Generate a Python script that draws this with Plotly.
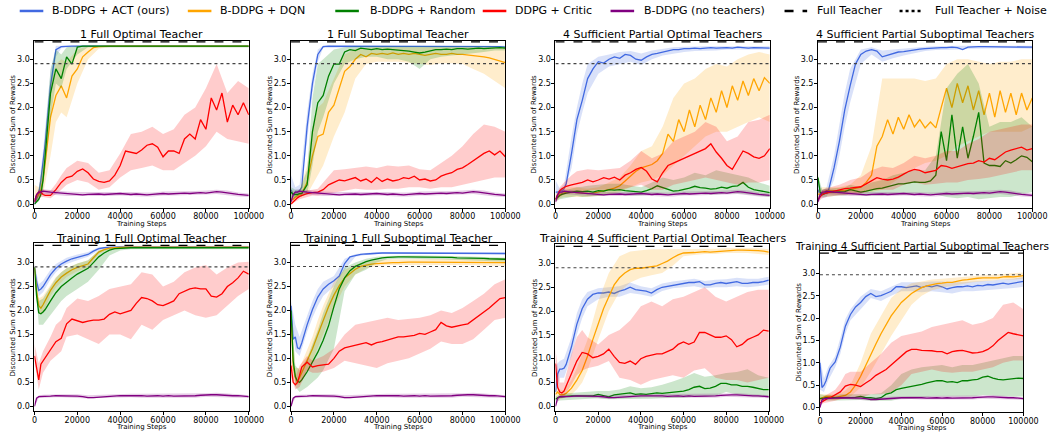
import plotly.graph_objects as go

W, H = 1063, 433

# ---------------- data ----------------
X = [0, 1000, 2000, 3000, 4000, 5000, 7500, 10000, 12500, 15000, 17500,
     20000, 22500, 25000, 27500, 30000, 32500, 35000, 37500, 40000, 42500, 45000,
     47500, 50000, 52500, 55000, 57500, 60000, 62500, 65000, 67500, 70000, 72500,
     75000, 77500, 80000, 82500, 85000, 87500, 90000, 92500, 95000, 97500, 100000]
XB = [0, 2000, 4000, 7500, 10000, 12500, 15000, 20000, 25000, 30000, 35000, 40000,
      45000, 50000, 55000, 60000, 65000, 70000, 75000, 80000, 85000, 90000, 95000, 100000]

SERIES_NAMES = ["B-DDPG + ACT (ours)", "B-DDPG + DQN", "B-DDPG + Random", "DDPG + Critic", "B-DDPG (no teachers)"]
REF_NAMES = ["Full Teacher", "Full Teacher + Noise"]
PANEL_TITLES = ["1 Full Optimal Teacher", "1 Full Suboptimal Teacher",
                "4 Sufficient Partial Optimal Teachers", "4 Sufficient Partial Suboptimal Teachers",
                "Training 1 Full Optimal Teacher", "Training 1 Full Suboptimal Teacher",
                "Training 4 Sufficient Partial Optimal Teachers", "Training 4 Sufficient Partial Suboptimal Teachers"]
FULL_TEACHER = [3.36, 3.36, 3.36, 3.36, 3.36, 3.36, 3.36, 3.45]
FULL_TEACHER_NOISE = [2.91, 2.91, 2.91, 2.91, 2.91, 2.92, 2.91, 2.97]
X_TICKS = [0, 20000, 40000, 60000, 80000, 100000]
Y_TICKS = [0.0, 0.5, 1.0, 1.5, 2.0, 2.5, 3.0]

# purple (no teachers), evaluation and training
P_EVAL = [0.05, 0.2, 0.25, 0.25, 0.27, 0.26, 0.25, 0.24, 0.23, 0.22, 0.22,
          0.2, 0.19, 0.2, 0.21, 0.21, 0.2, 0.21, 0.22, 0.22, 0.21, 0.2,
          0.21, 0.2, 0.19, 0.2, 0.21, 0.22, 0.21, 0.22, 0.23, 0.23, 0.22,
          0.23, 0.24, 0.23, 0.24, 0.26, 0.25, 0.23, 0.22, 0.2, 0.19, 0.18]
P_EVAL_LO = [0.0, 0.2, 0.21, 0.2, 0.19, 0.18, 0.17, 0.16, 0.16, 0.17, 0.17, 0.18,
             0.17, 0.16, 0.16, 0.18, 0.18, 0.19, 0.19, 0.2, 0.21, 0.19, 0.16, 0.15]
P_EVAL_HI = [0.1, 0.3, 0.31, 0.29, 0.28, 0.27, 0.26, 0.25, 0.25, 0.26, 0.26, 0.26,
             0.25, 0.24, 0.24, 0.26, 0.26, 0.27, 0.27, 0.28, 0.3, 0.28, 0.24, 0.22]
P_TRAIN = [0.0, 0.17, 0.2, 0.2, 0.21, 0.21, 0.21, 0.22, 0.22, 0.22, 0.22,
           0.21, 0.2, 0.18, 0.18, 0.19, 0.2, 0.21, 0.21, 0.22, 0.22, 0.22,
           0.23, 0.22, 0.21, 0.22, 0.22, 0.21, 0.22, 0.21, 0.21, 0.22, 0.22,
           0.22, 0.23, 0.24, 0.24, 0.24, 0.23, 0.23, 0.22, 0.22, 0.21, 0.2]
P_TRAIN_LO = [0.0, 0.17, 0.18, 0.18, 0.19, 0.19, 0.19, 0.17, 0.16, 0.17, 0.18, 0.19,
              0.19, 0.18, 0.18, 0.17, 0.18, 0.18, 0.18, 0.2, 0.2, 0.19, 0.18, 0.17]
P_TRAIN_HI = [0.05, 0.23, 0.24, 0.25, 0.25, 0.25, 0.25, 0.25, 0.23, 0.24, 0.25, 0.26,
              0.26, 0.26, 0.26, 0.27, 0.26, 0.26, 0.26, 0.27, 0.28, 0.27, 0.25, 0.23]

# Panel 1
P1_ACT = [0.0, 0.1, 0.22, 0.5, 0.85, 1.25, 2.45, 3.2, 3.26, 3.27, 3.27,
          3.27, 3.27, 3.27, 3.27, 3.27, 3.27, 3.27, 3.27, 3.27, 3.27, 3.27,
          3.27, 3.27, 3.27, 3.27, 3.27, 3.27, 3.27, 3.27, 3.27, 3.27, 3.27,
          3.27, 3.27, 3.27, 3.27, 3.27, 3.27, 3.27, 3.27, 3.27, 3.27, 3.27]
P1_ACT_LO = [0.0, 0.15, 0.55, 2.2, 3.05, 3.23, 3.25, 3.25, 3.25, 3.25, 3.25, 3.25,
             3.25, 3.25, 3.25, 3.25, 3.25, 3.25, 3.25, 3.25, 3.25, 3.25, 3.25, 3.25]
P1_ACT_HI = [0.05, 0.35, 1.1, 2.75, 3.28, 3.28, 3.28, 3.28, 3.28, 3.28, 3.28, 3.28,
             3.28, 3.28, 3.28, 3.28, 3.28, 3.28, 3.28, 3.28, 3.28, 3.28, 3.28, 3.28]
P1_DQN = [0.1, 0.15, 0.2, 0.3, 0.5, 0.85, 1.8, 2.25, 2.45, 2.2, 2.65,
          2.8, 3.05, 3.15, 3.24, 3.26, 3.27, 3.27, 3.27, 3.27, 3.27, 3.27,
          3.27, 3.27, 3.27, 3.27, 3.27, 3.27, 3.27, 3.27, 3.27, 3.27, 3.27,
          3.27, 3.27, 3.27, 3.27, 3.27, 3.27, 3.27, 3.27, 3.27, 3.27, 3.27]
P1_DQN_LO = [0.0, 0.1, 0.2, 1.0, 1.7, 1.9, 1.8, 2.5, 3.0, 3.22, 3.25, 3.25,
             3.25, 3.25, 3.25, 3.25, 3.25, 3.25, 3.25, 3.25, 3.25, 3.25, 3.25, 3.25]
P1_DQN_HI = [0.4, 0.35, 0.8, 2.5, 2.9, 3.0, 2.95, 3.2, 3.27, 3.28, 3.28, 3.28,
             3.28, 3.28, 3.28, 3.28, 3.28, 3.28, 3.28, 3.28, 3.28, 3.28, 3.28, 3.28]
P1_RND = [0.0, 0.05, 0.1, 0.2, 0.5, 1.0, 2.3, 2.8, 2.6, 3.05, 2.9,
          3.25, 3.27, 3.27, 3.27, 3.27, 3.27, 3.27, 3.27, 3.27, 3.27, 3.27,
          3.27, 3.27, 3.27, 3.27, 3.27, 3.27, 3.27, 3.27, 3.27, 3.27, 3.27,
          3.27, 3.27, 3.27, 3.27, 3.27, 3.27, 3.27, 3.27, 3.27, 3.27, 3.27]
P1_RND_LO = [0.0, 0.05, 0.3, 1.8, 2.5, 2.4, 2.8, 3.1, 3.25, 3.25, 3.25, 3.25,
             3.25, 3.25, 3.25, 3.25, 3.25, 3.25, 3.25, 3.25, 3.25, 3.25, 3.25, 3.25]
P1_RND_HI = [0.05, 0.3, 0.9, 2.8, 3.2, 3.1, 3.25, 3.28, 3.28, 3.28, 3.28, 3.28,
             3.28, 3.28, 3.28, 3.28, 3.28, 3.28, 3.28, 3.28, 3.28, 3.28, 3.28, 3.28]
P1_CRT = [0.05, 0.2, 0.25, 0.25, 0.2, 0.18, 0.18, 0.3, 0.45, 0.55, 0.58,
          0.68, 0.73, 0.65, 0.52, 0.47, 0.45, 0.48, 0.6, 0.8, 1.1, 1.08,
          1.05, 1.12, 1.22, 1.25, 1.18, 0.98, 1.1, 1.1, 1.05, 1.35, 1.45,
          1.35, 1.75, 1.55, 2.2, 1.95, 2.3, 1.7, 2.05, 1.85, 2.1, 1.85]
P1_CRT_LO = [0.0, 0.15, 0.15, 0.12, 0.2, 0.3, 0.4, 0.5, 0.45, 0.3, 0.35, 0.55,
             0.7, 0.75, 0.8, 0.7, 0.7, 0.85, 1.0, 1.2, 1.5, 1.35, 1.3, 1.25]
P1_CRT_HI = [0.1, 0.3, 0.3, 0.28, 0.42, 0.6, 0.75, 0.9, 0.85, 0.65, 0.7, 1.05,
             1.45, 1.5, 1.6, 1.45, 1.55, 1.85, 2.0, 2.4, 2.9, 2.3, 2.55, 2.4]

# Panel 2
P2_ACT = [0.3, 0.2, 0.25, 0.25, 0.28, 0.35, 1.6, 2.5, 3.1, 3.26, 3.27,
          3.27, 3.27, 3.27, 3.27, 3.27, 3.27, 3.27, 3.27, 3.27, 3.27, 3.27,
          3.27, 3.27, 3.27, 3.27, 3.27, 3.27, 3.27, 3.27, 3.27, 3.27, 3.27,
          3.27, 3.27, 3.27, 3.27, 3.27, 3.27, 3.27, 3.27, 3.26, 3.26, 3.25]
P2_ACT_LO = [0.15, 0.15, 0.2, 1.3, 2.3, 2.95, 3.24, 3.25, 3.25, 3.25, 3.25, 3.25,
             3.25, 3.25, 3.25, 3.25, 3.25, 3.25, 3.25, 3.25, 3.25, 3.25, 3.24, 3.23]
P2_ACT_HI = [0.6, 0.35, 0.4, 1.9, 2.7, 3.2, 3.28, 3.28, 3.28, 3.28, 3.28, 3.28,
             3.28, 3.28, 3.28, 3.28, 3.28, 3.28, 3.28, 3.28, 3.28, 3.28, 3.28, 3.28]
P2_DQN = [0.1, 0.1, 0.15, 0.18, 0.2, 0.22, 0.45, 1.0, 1.4, 1.45, 1.9,
          2.05, 2.4, 2.75, 2.85, 3.0, 3.1, 3.05, 3.12, 3.1, 3.12, 3.1,
          3.13, 3.1, 3.12, 3.1, 3.12, 3.1, 3.08, 3.1, 3.12, 3.1, 3.1,
          3.12, 3.1, 3.1, 3.09, 3.08, 3.07, 3.05, 3.03, 3.0, 2.97, 2.93]
P2_DQN_LO = [0.0, 0.1, 0.15, 0.2, 0.4, 0.6, 0.8, 1.4, 1.9, 2.6, 2.9, 2.95,
             2.95, 2.95, 2.92, 2.9, 2.88, 2.92, 2.92, 2.9, 2.8, 2.7, 2.55, 2.4]
P2_DQN_HI = [0.3, 0.25, 0.3, 0.8, 1.6, 2.0, 2.1, 2.6, 3.1, 3.22, 3.24, 3.25,
             3.25, 3.25, 3.25, 3.25, 3.25, 3.25, 3.25, 3.25, 3.25, 3.25, 3.25, 3.25]
P2_RND = [0.25, 0.2, 0.2, 0.2, 0.22, 0.22, 0.4, 1.5, 2.1, 2.25, 2.65,
          2.9, 2.9, 3.15, 3.2, 3.18, 3.23, 3.22, 3.2, 3.22, 3.2, 3.21,
          3.2, 3.2, 3.18, 3.17, 3.15, 3.13, 3.15, 3.18, 3.2, 3.2, 3.21,
          3.2, 3.22, 3.22, 3.21, 3.22, 3.23, 3.22, 3.23, 3.24, 3.24, 3.23]
P2_RND_LO = [0.1, 0.12, 0.15, 0.2, 0.8, 1.5, 1.8, 2.5, 2.9, 3.0, 3.05, 3.05,
             3.0, 3.0, 2.95, 2.8, 3.0, 3.05, 3.08, 3.1, 3.12, 3.15, 3.18, 3.18]
P2_RND_HI = [0.35, 0.3, 0.3, 0.7, 2.2, 2.9, 3.0, 3.2, 3.25, 3.27, 3.27, 3.27,
             3.27, 3.27, 3.27, 3.27, 3.27, 3.27, 3.27, 3.27, 3.27, 3.27, 3.27, 3.27]
P2_CRT = [0.0, 0.05, 0.1, 0.13, 0.16, 0.18, 0.22, 0.24, 0.25, 0.3, 0.4,
          0.45, 0.5, 0.48, 0.52, 0.55, 0.48, 0.52, 0.45, 0.55, 0.47, 0.52,
          0.48, 0.5, 0.55, 0.53, 0.58, 0.5, 0.52, 0.48, 0.5, 0.58, 0.62,
          0.65, 0.72, 0.75, 0.82, 0.9, 0.98, 1.05, 1.1, 1.02, 1.1, 0.98]
P2_CRT_LO = [0.0, 0.05, 0.1, 0.15, 0.18, 0.18, 0.2, 0.25, 0.28, 0.32, 0.3, 0.3,
             0.32, 0.32, 0.35, 0.35, 0.32, 0.35, 0.35, 0.4, 0.45, 0.5, 0.55, 0.55]
P2_CRT_HI = [0.05, 0.15, 0.2, 0.28, 0.3, 0.32, 0.45, 0.7, 0.72, 0.75, 0.78, 0.75,
             0.8, 0.78, 0.8, 0.72, 0.7, 0.85, 1.0, 1.2, 1.45, 1.65, 1.6, 1.5]

# Panel 3
P3_ACT = [0.25, 0.25, 0.27, 0.28, 0.32, 0.42, 1.05, 1.75, 2.15, 2.6, 2.8,
          2.95, 2.92, 3.0, 3.05, 3.02, 3.1, 3.08, 3.0, 2.98, 3.05, 3.1,
          3.12, 3.15, 3.18, 3.2, 3.2, 3.22, 3.22, 3.23, 3.22, 3.23, 3.24,
          3.23, 3.24, 3.24, 3.23, 3.25, 3.24, 3.23, 3.24, 3.24, 3.23, 3.23]
P3_ACT_LO = [0.2, 0.22, 0.25, 0.75, 1.45, 1.9, 2.3, 2.7, 2.85, 2.9, 2.95, 2.88,
             3.0, 3.08, 3.12, 3.15, 3.17, 3.18, 3.18, 3.2, 3.2, 3.2, 3.2, 3.2]
P3_ACT_HI = [0.5, 0.32, 0.4, 1.4, 2.0, 2.5, 2.9, 3.05, 3.1, 3.15, 3.17, 3.12,
             3.18, 3.22, 3.25, 3.26, 3.27, 3.27, 3.27, 3.27, 3.27, 3.27, 3.27, 3.27]
P3_DQN = [0.1, 0.15, 0.2, 0.22, 0.24, 0.25, 0.25, 0.24, 0.23, 0.22, 0.23,
          0.25, 0.27, 0.3, 0.33, 0.38, 0.48, 0.58, 0.68, 0.75, 0.78, 0.82,
          0.9, 1.05, 1.45, 1.3, 1.75, 1.5, 1.95, 1.6, 2.05, 1.75, 2.2,
          1.9, 2.35, 2.0, 2.45, 2.15, 2.55, 2.25, 2.6, 2.35, 2.62, 2.5]
P3_DQN_LO = [0.05, 0.12, 0.15, 0.15, 0.15, 0.15, 0.15, 0.17, 0.2, 0.25, 0.35, 0.45,
             0.5, 0.6, 0.8, 1.0, 1.2, 1.4, 1.5, 1.5, 1.6, 1.7, 1.8, 1.7]
P3_DQN_HI = [0.2, 0.3, 0.35, 0.35, 0.35, 0.33, 0.32, 0.35, 0.45, 0.55, 0.8, 1.1,
             1.2, 1.6, 2.2, 2.5, 2.6, 2.8, 2.9, 2.85, 3.0, 3.1, 3.15, 3.1]
P3_RND = [0.1, 0.15, 0.18, 0.2, 0.22, 0.23, 0.25, 0.27, 0.26, 0.27, 0.25,
          0.28, 0.27, 0.3, 0.29, 0.3, 0.28, 0.27, 0.26, 0.25, 0.28, 0.32,
          0.38, 0.34, 0.3, 0.27, 0.28, 0.3, 0.33, 0.37, 0.34, 0.33, 0.31,
          0.32, 0.35, 0.33, 0.37, 0.38, 0.45, 0.35, 0.3, 0.28, 0.26, 0.24]
P3_RND_LO = [0.05, 0.1, 0.13, 0.15, 0.17, 0.15, 0.15, 0.17, 0.2, 0.2, 0.18, 0.18,
             0.2, 0.2, 0.2, 0.2, 0.22, 0.2, 0.2, 0.22, 0.22, 0.2, 0.18, 0.15]
P3_RND_HI = [0.15, 0.25, 0.28, 0.32, 0.35, 0.36, 0.38, 0.4, 0.42, 0.42, 0.38, 0.35,
             0.45, 0.55, 0.5, 0.55, 0.65, 0.6, 0.7, 0.65, 0.6, 0.55, 0.45, 0.38]
P3_CRT = [0.1, 0.2, 0.28, 0.32, 0.35, 0.37, 0.4, 0.43, 0.45, 0.5, 0.46,
          0.5, 0.55, 0.52, 0.56, 0.5, 0.6, 0.65, 0.72, 0.76, 0.68, 0.52,
          0.46, 0.65, 0.8, 0.85, 0.9, 0.95, 1.0, 1.05, 1.1, 1.15, 1.25,
          1.08, 0.95, 0.8, 0.72, 0.9, 1.1, 1.05, 0.98, 0.95, 1.0, 1.15]
P3_CRT_LO = [0.05, 0.15, 0.2, 0.22, 0.25, 0.25, 0.28, 0.3, 0.3, 0.3, 0.35, 0.4,
             0.3, 0.3, 0.4, 0.45, 0.5, 0.55, 0.5, 0.45, 0.4, 0.45, 0.45, 0.5]
P3_CRT_HI = [0.15, 0.35, 0.45, 0.6, 0.68, 0.7, 0.72, 0.7, 0.72, 0.75, 0.9, 1.1,
             0.95, 1.05, 1.3, 1.4, 1.5, 1.7, 1.6, 1.3, 1.4, 1.7, 1.75, 1.85]

# Panel 4
P4_ACT = [0.3, 0.2, 0.2, 0.22, 0.25, 0.3, 0.75, 1.3, 1.95, 2.45, 2.9,
          3.1, 3.17, 3.2, 3.17, 3.05, 3.08, 3.12, 3.15, 3.16, 3.18, 3.2,
          3.21, 3.22, 3.23, 3.23, 3.24, 3.24, 3.25, 3.24, 3.2, 3.25, 3.26,
          3.26, 3.26, 3.26, 3.26, 3.26, 3.26, 3.26, 3.26, 3.26, 3.26, 3.25]
P4_ACT_LO = [0.15, 0.12, 0.15, 0.5, 1.0, 1.6, 2.1, 2.9, 3.1, 2.95, 3.02, 3.08,
             3.13, 3.17, 3.19, 3.2, 3.2, 3.22, 3.23, 3.23, 3.23, 3.23, 3.23, 3.22]
P4_ACT_HI = [0.5, 0.28, 0.35, 1.0, 1.65, 2.3, 2.8, 3.2, 3.25, 3.18, 3.2, 3.22,
             3.25, 3.26, 3.27, 3.28, 3.28, 3.28, 3.28, 3.28, 3.28, 3.28, 3.28, 3.28]
P4_DQN = [0.2, 0.22, 0.25, 0.27, 0.28, 0.28, 0.28, 0.27, 0.28, 0.3, 0.32,
          0.35, 0.45, 0.6, 1.2, 1.4, 1.75, 1.45, 1.8, 1.55, 1.85, 1.6,
          1.75, 1.58, 1.7, 1.58, 2.0, 2.4, 2.0, 2.5, 2.1, 2.45, 1.95,
          2.35, 1.85, 2.3, 1.8, 2.35, 1.9, 2.3, 1.85, 2.3, 1.95, 2.2]
P4_DQN_LO = [0.15, 0.18, 0.2, 0.2, 0.2, 0.2, 0.2, 0.22, 0.25, 0.3, 0.45, 0.6,
             0.75, 0.85, 0.9, 1.0, 1.2, 1.3, 1.4, 1.5, 1.5, 1.5, 1.5, 1.6]
P4_DQN_HI = [0.3, 0.35, 0.35, 0.35, 0.35, 0.38, 0.4, 0.6, 1.2, 2.6, 2.6, 2.6,
             2.6, 2.55, 2.6, 2.9, 3.0, 3.0, 2.95, 2.9, 2.95, 2.95, 3.0, 3.0]
P4_RND = [0.55, 0.25, 0.2, 0.22, 0.24, 0.25, 0.25, 0.25, 0.26, 0.3, 0.27,
          0.25, 0.27, 0.3, 0.32, 0.33, 0.36, 0.4, 0.42, 0.42, 0.44, 0.46,
          0.45, 0.45, 0.48, 0.6, 1.5, 0.9, 1.85, 0.95, 1.6, 0.95, 1.4,
          1.9, 0.85, 0.8, 0.8, 0.78, 0.9, 0.85, 0.92, 1.0, 0.97, 0.88]
P4_RND_LO = [0.4, 0.15, 0.17, 0.17, 0.18, 0.18, 0.2, 0.18, 0.18, 0.18, 0.2, 0.2,
             0.22, 0.22, 0.2, 0.15, 0.12, 0.15, 0.1, 0.12, 0.15, 0.15, 0.2, 0.25]
P4_RND_HI = [0.6, 0.3, 0.32, 0.33, 0.33, 0.35, 0.4, 0.35, 0.45, 0.5, 0.6, 0.65,
             0.7, 0.7, 1.0, 2.4, 2.7, 2.9, 2.5, 1.6, 1.7, 1.7, 1.8, 1.6]
P4_CRT = [0.1, 0.15, 0.2, 0.22, 0.23, 0.25, 0.27, 0.3, 0.32, 0.33, 0.34,
          0.36, 0.42, 0.48, 0.55, 0.52, 0.5, 0.52, 0.56, 0.62, 0.68, 0.72,
          0.7, 0.65, 0.68, 0.7, 0.8, 0.78, 0.74, 0.77, 0.8, 0.84, 0.85,
          0.9, 0.87, 0.95, 0.92, 1.0, 1.08, 1.12, 1.15, 1.18, 1.12, 1.15]
P4_CRT_LO = [0.05, 0.12, 0.15, 0.17, 0.18, 0.2, 0.2, 0.22, 0.3, 0.3, 0.3, 0.4,
             0.45, 0.4, 0.42, 0.45, 0.45, 0.5, 0.52, 0.55, 0.6, 0.65, 0.7, 0.7]
P4_CRT_HI = [0.15, 0.3, 0.33, 0.37, 0.4, 0.45, 0.5, 0.55, 0.7, 0.78, 0.75, 0.85,
             1.0, 0.95, 1.0, 1.1, 1.1, 1.25, 1.35, 1.5, 1.55, 1.6, 1.65, 1.65]

# Panel 5 (training)
P5_ACT = [2.9, 2.6, 2.42, 2.45, 2.5, 2.58, 2.75, 2.88, 2.97, 3.03, 3.08,
          3.11, 3.14, 3.17, 3.24, 3.29, 3.31, 3.32, 3.33, 3.33, 3.33, 3.33,
          3.33, 3.33, 3.33, 3.33, 3.33, 3.33, 3.33, 3.33, 3.33, 3.33, 3.33,
          3.33, 3.33, 3.33, 3.33, 3.33, 3.33, 3.33, 3.33, 3.33, 3.33, 3.33]
P5_ACT_LO = [2.8, 2.3, 2.38, 2.65, 2.8, 2.9, 2.97, 3.05, 3.12, 3.26, 3.3, 3.31,
             3.31, 3.31, 3.31, 3.31, 3.31, 3.31, 3.31, 3.31, 3.31, 3.31, 3.31, 3.31]
P5_ACT_HI = [3.0, 2.55, 2.62, 2.85, 2.97, 3.04, 3.1, 3.17, 3.22, 3.32, 3.34, 3.35,
             3.35, 3.35, 3.35, 3.35, 3.35, 3.35, 3.35, 3.35, 3.35, 3.35, 3.35, 3.35]
P5_DQN = [2.9, 2.4, 2.1, 2.05, 2.12, 2.2, 2.42, 2.58, 2.7, 2.78, 2.85,
          2.9, 2.94, 2.97, 3.1, 3.22, 3.27, 3.3, 3.31, 3.32, 3.32, 3.32,
          3.32, 3.32, 3.32, 3.32, 3.32, 3.32, 3.32, 3.32, 3.32, 3.32, 3.32,
          3.32, 3.32, 3.32, 3.32, 3.32, 3.32, 3.32, 3.32, 3.32, 3.32, 3.32]
P5_DQN_LO = [2.8, 1.95, 1.95, 2.3, 2.48, 2.6, 2.7, 2.82, 2.9, 3.18, 3.28, 3.3,
             3.3, 3.3, 3.3, 3.3, 3.3, 3.3, 3.3, 3.3, 3.3, 3.3, 3.3, 3.3]
P5_DQN_HI = [3.0, 2.25, 2.3, 2.55, 2.7, 2.8, 2.88, 2.98, 3.05, 3.26, 3.32, 3.33,
             3.33, 3.33, 3.33, 3.33, 3.33, 3.33, 3.33, 3.33, 3.33, 3.33, 3.33, 3.33]
P5_RND = [2.9, 2.3, 1.95, 1.93, 1.97, 2.02, 2.2, 2.37, 2.5, 2.6, 2.68,
          2.76, 2.82, 2.88, 3.0, 3.12, 3.2, 3.26, 3.29, 3.3, 3.3, 3.31,
          3.31, 3.31, 3.31, 3.31, 3.31, 3.31, 3.31, 3.31, 3.31, 3.31, 3.31,
          3.31, 3.31, 3.31, 3.31, 3.31, 3.31, 3.31, 3.31, 3.31, 3.31, 3.31]
P5_RND_LO = [2.8, 1.7, 1.7, 1.9, 2.05, 2.2, 2.3, 2.45, 2.6, 2.85, 3.15, 3.25,
             3.28, 3.28, 3.28, 3.28, 3.28, 3.28, 3.28, 3.28, 3.28, 3.28, 3.28, 3.28]
P5_RND_HI = [3.0, 2.2, 2.25, 2.5, 2.68, 2.8, 2.88, 2.98, 3.05, 3.25, 3.3, 3.32,
             3.32, 3.32, 3.32, 3.32, 3.32, 3.32, 3.32, 3.32, 3.32, 3.32, 3.32, 3.32]
P5_CRT = [1.05, 0.75, 0.55, 0.88, 0.95, 1.0, 1.2, 1.35, 1.42, 1.72, 1.82,
          1.78, 1.75, 1.78, 1.8, 1.8, 1.82, 1.92, 1.97, 1.93, 1.97, 2.0,
          2.15, 2.27, 2.25, 2.2, 2.12, 2.1, 2.15, 2.2, 2.35, 2.4, 2.45,
          2.47, 2.45, 2.45, 2.3, 2.28, 2.35, 2.5, 2.58, 2.68, 2.82, 2.76]
P5_CRT_LO = [0.95, 0.35, 0.7, 0.95, 1.05, 1.15, 1.45, 1.5, 1.4, 1.3, 1.5, 1.5,
             1.4, 1.7, 1.6, 1.8, 1.9, 2.0, 1.9, 1.85, 1.9, 2.1, 2.3, 2.45]
P5_CRT_HI = [1.3, 0.9, 1.15, 1.45, 1.7, 1.8, 2.05, 2.25, 2.2, 2.3, 2.45, 2.5,
             2.55, 2.8, 2.75, 2.5, 2.6, 2.8, 2.9, 2.95, 2.75, 2.9, 3.0, 3.02]

# Panel 6
P6_ACT = [2.1, 1.4, 1.45, 1.22, 1.2, 1.32, 1.7, 2.02, 2.28, 2.45, 2.55,
          2.62, 2.72, 2.98, 3.12, 3.15, 3.17, 3.18, 3.19, 3.2, 3.2, 3.2,
          3.2, 3.2, 3.2, 3.2, 3.2, 3.2, 3.2, 3.2, 3.2, 3.2, 3.2,
          3.2, 3.2, 3.2, 3.2, 3.2, 3.2, 3.2, 3.2, 3.2, 3.2, 3.19]
P6_ACT_LO = [1.9, 1.15, 1.05, 1.55, 1.85, 2.1, 2.3, 2.5, 2.85, 3.12, 3.16, 3.18,
             3.18, 3.18, 3.18, 3.18, 3.18, 3.18, 3.18, 3.18, 3.18, 3.18, 3.18, 3.17]
P6_ACT_HI = [2.2, 1.7, 1.45, 1.9, 2.2, 2.45, 2.6, 2.72, 3.08, 3.18, 3.2, 3.22,
             3.22, 3.22, 3.22, 3.22, 3.22, 3.22, 3.22, 3.22, 3.22, 3.22, 3.22, 3.21]
P6_DQN = [1.9, 0.85, 0.6, 0.5, 0.6, 0.7, 0.95, 1.2, 1.5, 1.8, 2.08,
          2.32, 2.52, 2.68, 2.78, 2.86, 2.92, 2.95, 2.97, 2.98, 2.99, 3.0,
          3.0, 3.0, 3.01, 3.01, 3.01, 3.01, 3.01, 3.01, 3.01, 3.01, 3.01,
          3.01, 3.01, 3.01, 3.01, 3.01, 3.01, 3.01, 3.0, 3.0, 3.0, 3.0]
P6_DQN_LO = [1.7, 0.45, 0.45, 0.75, 0.95, 1.2, 1.5, 2.05, 2.5, 2.75, 2.88, 2.93,
             2.95, 2.95, 2.95, 2.95, 2.95, 2.95, 2.95, 2.95, 2.95, 2.94, 2.93, 2.93]
P6_DQN_HI = [2.0, 0.8, 0.8, 1.2, 1.45, 1.8, 2.1, 2.6, 2.85, 2.95, 3.02, 3.05,
             3.07, 3.07, 3.07, 3.07, 3.07, 3.07, 3.07, 3.08, 3.08, 3.08, 3.09, 3.1]
P6_RND = [2.0, 0.95, 0.62, 0.52, 0.5, 0.55, 0.72, 0.93, 1.13, 1.38, 1.68,
          2.08, 2.45, 2.68, 2.83, 2.92, 2.97, 3.02, 3.05, 3.08, 3.1, 3.11,
          3.12, 3.12, 3.12, 3.12, 3.12, 3.12, 3.12, 3.11, 3.11, 3.11, 3.11,
          3.11, 3.1, 3.1, 3.1, 3.1, 3.09, 3.09, 3.08, 3.08, 3.07, 3.07]
P6_RND_LO = [1.9, 0.4, 0.3, 0.4, 0.5, 0.6, 0.75, 1.2, 2.4, 2.75, 2.85, 3.0,
             3.07, 3.08, 3.08, 3.08, 3.07, 3.07, 3.06, 3.06, 3.05, 3.04, 3.03, 3.02]
P6_RND_HI = [2.1, 0.85, 0.75, 1.0, 1.3, 1.6, 1.95, 2.5, 2.9, 3.0, 3.08, 3.12,
             3.14, 3.15, 3.15, 3.15, 3.15, 3.15, 3.14, 3.13, 3.12, 3.12, 3.11, 3.1]
P6_CRT = [0.85, 0.5, 0.45, 0.5, 0.65, 0.82, 0.92, 0.82, 0.85, 0.87, 0.88,
          1.0, 1.15, 1.22, 1.25, 1.28, 1.3, 1.33, 1.28, 1.33, 1.35, 1.38,
          1.42, 1.45, 1.45, 1.47, 1.48, 1.52, 1.5, 1.55, 1.6, 1.75, 1.68,
          1.65, 1.68, 1.7, 1.72, 1.8, 1.88, 1.97, 2.05, 2.15, 2.25, 2.27]
P6_CRT_LO = [0.6, 0.35, 0.4, 0.75, 0.7, 0.7, 0.72, 0.8, 0.95, 0.9, 0.85, 0.8,
             0.9, 0.95, 1.0, 1.1, 1.2, 1.35, 1.3, 1.3, 1.4, 1.6, 1.8, 1.85]
P6_CRT_HI = [1.0, 0.6, 0.85, 1.05, 0.95, 1.0, 1.05, 1.2, 1.5, 1.7, 1.75, 1.8,
             1.85, 1.8, 1.82, 1.85, 1.9, 2.0, 1.95, 2.05, 2.2, 2.35, 2.55, 2.65]

# Panel 7
P7_ACT = [0.3, 0.68, 0.78, 0.78, 0.8, 0.88, 1.25, 1.72, 2.05, 2.25, 2.35,
          2.38, 2.38, 2.4, 2.37, 2.42, 2.45, 2.5, 2.45, 2.43, 2.42, 2.38,
          2.45, 2.5, 2.52, 2.55, 2.57, 2.58, 2.6, 2.6, 2.62, 2.55, 2.55,
          2.58, 2.6, 2.58, 2.6, 2.62, 2.58, 2.58, 2.6, 2.6, 2.62, 2.65]
P7_ACT_LO = [0.2, 0.6, 0.6, 1.05, 1.5, 1.85, 2.1, 2.25, 2.3, 2.3, 2.38, 2.35,
             2.3, 2.42, 2.48, 2.5, 2.52, 2.48, 2.5, 2.5, 2.52, 2.5, 2.52, 2.56]
P7_ACT_HI = [0.85, 0.95, 1.0, 1.45, 1.95, 2.25, 2.4, 2.48, 2.5, 2.52, 2.6, 2.52,
             2.48, 2.58, 2.62, 2.65, 2.68, 2.63, 2.66, 2.67, 2.7, 2.68, 2.68, 2.72]
P7_DQN = [0.25, 0.3, 0.25, 0.24, 0.25, 0.27, 0.38, 0.55, 0.75, 1.05, 1.4,
          1.75, 2.05, 2.3, 2.55, 2.7, 2.8, 2.87, 2.9, 2.9, 2.92, 2.93,
          2.95, 3.0, 3.05, 3.12, 3.18, 3.22, 3.22, 3.23, 3.24, 3.25, 3.24,
          3.25, 3.26, 3.27, 3.27, 3.28, 3.28, 3.28, 3.27, 3.27, 3.26, 3.24]
P7_DQN_LO = [0.15, 0.15, 0.18, 0.25, 0.35, 0.5, 0.75, 1.4, 2.0, 2.4, 2.6, 2.7,
             2.75, 2.8, 2.95, 3.15, 3.18, 3.2, 3.2, 3.22, 3.22, 3.22, 3.2, 3.18]
P7_DQN_HI = [0.4, 0.35, 0.33, 0.55, 0.8, 1.1, 1.4, 2.2, 2.8, 3.15, 3.25, 3.28,
             3.3, 3.3, 3.3, 3.3, 3.3, 3.31, 3.31, 3.32, 3.32, 3.32, 3.32, 3.3]
P7_RND = [0.15, 0.18, 0.2, 0.2, 0.21, 0.21, 0.22, 0.22, 0.22, 0.23, 0.22,
          0.25, 0.22, 0.2, 0.24, 0.25, 0.27, 0.28, 0.25, 0.26, 0.25, 0.27,
          0.28, 0.27, 0.28, 0.3, 0.3, 0.32, 0.35, 0.4, 0.42, 0.37, 0.38,
          0.42, 0.48, 0.48, 0.45, 0.45, 0.42, 0.42, 0.4, 0.37, 0.35, 0.35]
P7_RND_LO = [0.1, 0.12, 0.13, 0.13, 0.15, 0.15, 0.16, 0.17, 0.15, 0.15, 0.15, 0.16,
             0.16, 0.17, 0.18, 0.18, 0.2, 0.2, 0.22, 0.3, 0.25, 0.22, 0.2, 0.2]
P7_RND_HI = [0.2, 0.25, 0.27, 0.28, 0.28, 0.3, 0.3, 0.32, 0.32, 0.35, 0.42, 0.38,
             0.4, 0.45, 0.52, 0.6, 0.7, 0.62, 0.65, 0.7, 0.72, 0.78, 0.65, 0.6]
P7_CRT = [0.9, 0.4, 0.3, 0.28, 0.32, 0.42, 0.7, 0.95, 1.13, 1.1, 1.02,
          1.05, 1.1, 1.2, 1.05, 0.92, 0.9, 0.95, 0.88, 1.0, 1.05, 1.07,
          1.1, 1.1, 1.15, 1.2, 1.3, 1.35, 1.3, 1.35, 1.55, 1.55, 1.5,
          1.45, 1.45, 1.48, 1.4, 1.25, 1.3, 1.4, 1.45, 1.5, 1.6, 1.58]
P7_CRT_LO = [0.6, 0.2, 0.2, 0.45, 0.65, 0.75, 0.8, 0.85, 0.95, 0.6, 0.55, 0.45,
             0.55, 0.6, 0.65, 0.6, 0.75, 0.8, 0.6, 0.55, 0.55, 0.5, 0.55, 0.6]
P7_CRT_HI = [1.2, 0.5, 0.5, 1.1, 1.45, 1.6, 1.45, 1.3, 1.5, 1.6, 1.8, 2.1,
             2.2, 2.1, 2.25, 2.3, 2.4, 2.5, 2.3, 2.2, 2.3, 2.4, 2.45, 2.45]

# Panel 8
P8_ACT = [1.0, 0.45, 0.5, 0.6, 0.75, 0.88, 1.02, 1.35, 1.82, 2.08, 2.25,
          2.35, 2.48, 2.55, 2.48, 2.5, 2.55, 2.6, 2.7, 2.7, 2.68, 2.7,
          2.72, 2.68, 2.72, 2.7, 2.73, 2.7, 2.65, 2.68, 2.7, 2.7, 2.72,
          2.7, 2.73, 2.72, 2.75, 2.74, 2.76, 2.78, 2.76, 2.78, 2.79, 2.82]
P8_ACT_LO = [0.4, 0.35, 0.6, 0.9, 1.2, 1.65, 1.95, 2.2, 2.45, 2.38, 2.5, 2.6,
             2.6, 2.58, 2.6, 2.58, 2.55, 2.6, 2.6, 2.62, 2.64, 2.65, 2.67, 2.7]
P8_ACT_HI = [1.1, 0.65, 0.9, 1.15, 1.55, 1.98, 2.2, 2.48, 2.65, 2.6, 2.7, 2.8,
             2.8, 2.8, 2.82, 2.82, 2.8, 2.8, 2.82, 2.83, 2.84, 2.87, 2.88, 2.92]
P8_DQN = [0.2, 0.22, 0.24, 0.25, 0.25, 0.25, 0.23, 0.25, 0.27, 0.35, 0.5,
          0.7, 0.95, 1.2, 1.42, 1.65, 1.85, 2.05, 2.2, 2.35, 2.45, 2.55,
          2.62, 2.68, 2.72, 2.75, 2.77, 2.78, 2.8, 2.8, 2.83, 2.85, 2.86,
          2.88, 2.89, 2.9, 2.9, 2.91, 2.9, 2.92, 2.93, 2.92, 2.93, 2.95]
P8_DQN_LO = [0.15, 0.18, 0.18, 0.17, 0.18, 0.2, 0.25, 0.45, 0.8, 1.2, 1.6, 1.95,
             2.3, 2.5, 2.62, 2.68, 2.72, 2.76, 2.8, 2.82, 2.84, 2.86, 2.86, 2.88]
P8_DQN_HI = [0.3, 0.3, 0.3, 0.3, 0.32, 0.38, 0.5, 1.0, 1.65, 2.05, 2.45, 2.65,
             2.78, 2.82, 2.86, 2.88, 2.9, 2.92, 2.95, 2.96, 2.97, 2.98, 3.0, 3.02]
P8_RND = [0.2, 0.2, 0.21, 0.22, 0.22, 0.22, 0.23, 0.22, 0.23, 0.22, 0.23,
          0.25, 0.22, 0.22, 0.2, 0.22, 0.3, 0.33, 0.4, 0.43, 0.45, 0.48,
          0.5, 0.52, 0.55, 0.57, 0.6, 0.6, 0.57, 0.58, 0.56, 0.6, 0.6,
          0.62, 0.63, 0.68, 0.7, 0.66, 0.63, 0.62, 0.63, 0.65, 0.66, 0.65]
P8_RND_LO = [0.15, 0.15, 0.15, 0.15, 0.15, 0.15, 0.16, 0.17, 0.15, 0.15, 0.15, 0.2,
             0.2, 0.22, 0.25, 0.25, 0.25, 0.25, 0.25, 0.28, 0.28, 0.26, 0.25, 0.25]
P8_RND_HI = [0.3, 0.28, 0.28, 0.28, 0.3, 0.3, 0.3, 0.3, 0.3, 0.32, 0.5, 0.75,
             0.85, 0.9, 0.92, 0.95, 0.9, 0.95, 0.95, 1.0, 1.05, 1.1, 1.15, 1.15]
P8_CRT = [0.1, 0.13, 0.17, 0.2, 0.21, 0.22, 0.28, 0.35, 0.48, 0.52, 0.5,
          0.47, 0.55, 0.62, 0.72, 0.78, 0.85, 0.95, 1.05, 1.15, 1.25, 1.3,
          1.3, 1.28, 1.28, 1.27, 1.25, 1.25, 1.2, 1.25, 1.27, 1.28, 1.25,
          1.22, 1.23, 1.25, 1.3, 1.38, 1.5, 1.6, 1.68, 1.65, 1.62, 1.6]
P8_CRT_LO = [0.05, 0.1, 0.12, 0.15, 0.18, 0.22, 0.25, 0.22, 0.3, 0.3, 0.35, 0.5,
             0.75, 0.8, 0.85, 0.8, 0.78, 0.8, 0.8, 0.85, 0.9, 1.0, 1.05, 1.05]
P8_CRT_HI = [0.2, 0.25, 0.3, 0.4, 0.55, 0.75, 0.8, 0.8, 1.0, 1.2, 1.45, 1.6,
             1.65, 1.7, 1.8, 1.85, 1.9, 1.95, 1.85, 1.9, 2.0, 2.3, 2.35, 2.2]

# ---------------- assembly ----------------
PANELS = [
    [(P1_ACT, P1_ACT_LO, P1_ACT_HI), (P1_DQN, P1_DQN_LO, P1_DQN_HI), (P1_RND, P1_RND_LO, P1_RND_HI), (P1_CRT, P1_CRT_LO, P1_CRT_HI), (P_EVAL, P_EVAL_LO, P_EVAL_HI)],
    [(P2_ACT, P2_ACT_LO, P2_ACT_HI), (P2_DQN, P2_DQN_LO, P2_DQN_HI), (P2_RND, P2_RND_LO, P2_RND_HI), (P2_CRT, P2_CRT_LO, P2_CRT_HI), (P_EVAL, P_EVAL_LO, P_EVAL_HI)],
    [(P3_ACT, P3_ACT_LO, P3_ACT_HI), (P3_DQN, P3_DQN_LO, P3_DQN_HI), (P3_RND, P3_RND_LO, P3_RND_HI), (P3_CRT, P3_CRT_LO, P3_CRT_HI), (P_EVAL, P_EVAL_LO, P_EVAL_HI)],
    [(P4_ACT, P4_ACT_LO, P4_ACT_HI), (P4_DQN, P4_DQN_LO, P4_DQN_HI), (P4_RND, P4_RND_LO, P4_RND_HI), (P4_CRT, P4_CRT_LO, P4_CRT_HI), (P_EVAL, P_EVAL_LO, P_EVAL_HI)],
    [(P5_ACT, P5_ACT_LO, P5_ACT_HI), (P5_DQN, P5_DQN_LO, P5_DQN_HI), (P5_RND, P5_RND_LO, P5_RND_HI), (P5_CRT, P5_CRT_LO, P5_CRT_HI), (P_TRAIN, P_TRAIN_LO, P_TRAIN_HI)],
    [(P6_ACT, P6_ACT_LO, P6_ACT_HI), (P6_DQN, P6_DQN_LO, P6_DQN_HI), (P6_RND, P6_RND_LO, P6_RND_HI), (P6_CRT, P6_CRT_LO, P6_CRT_HI), (P_TRAIN, P_TRAIN_LO, P_TRAIN_HI)],
    [(P7_ACT, P7_ACT_LO, P7_ACT_HI), (P7_DQN, P7_DQN_LO, P7_DQN_HI), (P7_RND, P7_RND_LO, P7_RND_HI), (P7_CRT, P7_CRT_LO, P7_CRT_HI), (P_TRAIN, P_TRAIN_LO, P_TRAIN_HI)],
    [(P8_ACT, P8_ACT_LO, P8_ACT_HI), (P8_DQN, P8_DQN_LO, P8_DQN_HI), (P8_RND, P8_RND_LO, P8_RND_HI), (P8_CRT, P8_CRT_LO, P8_CRT_HI), (P_TRAIN, P_TRAIN_LO, P_TRAIN_HI)],
]
for p, panel in enumerate(PANELS):
    for s, (m, lo, hi) in enumerate(panel):
        assert len(m) == len(X), (p, s, "mean", len(m))
        assert len(lo) == len(XB), (p, s, "lo", len(lo))
        assert len(hi) == len(XB), (p, s, "hi", len(hi))

COLORS = ["#4169e1", "#ffa500", "#008000", "#ff0000", "#800080"]
FILLS = ["rgba(65,105,225,0.2)", "rgba(255,165,0,0.2)", "rgba(0,128,0,0.2)",
         "rgba(255,0,0,0.2)", "rgba(128,0,128,0.2)"]

# plot-area boxes in pixels: left, right, top, bottom
BOXES = [(32, 250, 41, 208), (293, 511, 41, 208), (562, 780, 41, 208), (829, 1047, 41, 208),
         (32, 250, 244, 412), (293, 511, 244, 412), (562, 779, 245, 412), (831, 1038, 252, 413)]
YRANGES = [[-0.07, 3.38]] * 4 + [[-0.1, 3.4]] * 3 + [[-0.1, 3.49]]
TITLE_Y = [35, 35, 35, 35, 239, 239, 239, 247]
TITLE_SIZE = [11, 11, 11, 11, 11, 11, 11, 10.5]
XTITLE_OFF = [16.5, 16.5, 16.5, 16.5, 16, 16, 16, 15.5]

FONT = "DejaVu Sans"
fig = go.Figure()
layout = {}
annotations = []
shapes = []

for i, panel in enumerate(PANELS):
    k = "" if i == 0 else str(i + 1)
    xa, ya = "x" + k, "y" + k
    for s, (m, lo, hi) in enumerate(panel):
        fig.add_trace(go.Scatter(x=XB + XB[::-1], y=hi + lo[::-1], fill="toself",
                                 fillcolor=FILLS[s], line=dict(width=0), mode="lines",
                                 hoverinfo="skip", showlegend=False, xaxis=xa, yaxis=ya))
        fig.add_trace(go.Scatter(x=X, y=m, mode="lines", line=dict(color=COLORS[s], width=1.3),
                                 name=SERIES_NAMES[s], showlegend=False, xaxis=xa, yaxis=ya))
    fig.add_trace(go.Scatter(x=[0, 100000], y=[FULL_TEACHER[i]] * 2, mode="lines",
                             line=dict(color="black", width=1.2, dash="dash"),
                             name=REF_NAMES[0], showlegend=False, xaxis=xa, yaxis=ya))
    fig.add_trace(go.Scatter(x=[0, 100000], y=[FULL_TEACHER_NOISE[i]] * 2, mode="lines",
                             line=dict(color="#444444", width=1.1, dash="dot"),
                             name=REF_NAMES[1], showlegend=False, xaxis=xa, yaxis=ya))
    l, r, t, b = BOXES[i]
    axcommon = dict(showline=True, linecolor="black", linewidth=1, mirror=True,
                    ticks="outside", ticklen=3, tickwidth=1, tickcolor="black",
                    showgrid=False, zeroline=False,
                    tickfont=dict(family=FONT, size=8, color="black"))
    layout["xaxis" + k] = dict(domain=[l / W, r / W], anchor=ya, range=[0, 100000],
                               tickvals=X_TICKS, ticktext=[str(v) for v in X_TICKS],
                               ticklabelstandoff=-2, **axcommon)
    layout["yaxis" + k] = dict(domain=[1 - b / H, 1 - t / H], anchor=xa, range=YRANGES[i],
                               tickvals=Y_TICKS, ticktext=["%.1f" % v for v in Y_TICKS],
                               ticklabelstandoff=-1, **axcommon)
    cx = (l + r) / 2 / W
    annotations.append(dict(text=PANEL_TITLES[i], x=cx, y=1 - TITLE_Y[i] / H, xref="paper", yref="paper",
                            xanchor="center", yanchor="middle", showarrow=False,
                            font=dict(family=FONT, size=TITLE_SIZE[i], color="black")))
    annotations.append(dict(text="Training Steps", x=cx, y=1 - (b + XTITLE_OFF[i]) / H, xref="paper", yref="paper",
                            xanchor="center", yanchor="middle", showarrow=False,
                            font=dict(family=FONT, size=7, color="black")))
    annotations.append(dict(text="Discounted Sum of Rewards", x=(l - 21.5) / W, y=1 - (t + b) / 2 / H,
                            xref="paper", yref="paper", xanchor="center", yanchor="middle",
                            textangle=-90, showarrow=False,
                            font=dict(family=FONT, size=7, color="black")))

# legend (manual, top row)
LEG_LINE_X = [(17, 41), (188, 212), (338, 362), (488, 512), (618, 642), (795, 818), (912, 936)]
LEG_TEXT_X = [48, 219, 371, 519, 650, 826, 946]
LEG_Y = 11
leg_names = SERIES_NAMES + REF_NAMES
leg_colors = COLORS + ["black", "black"]
leg_dash = ["solid"] * 5 + ["dash", "dot"]
for j in range(7):
    x0, x1 = LEG_LINE_X[j]
    shapes.append(dict(type="line", xref="paper", yref="paper", x0=x0 / W, x1=x1 / W,
                       y0=1 - LEG_Y / H, y1=1 - LEG_Y / H,
                       line=dict(color=leg_colors[j], width=2.5, dash=leg_dash[j])))
    annotations.append(dict(text=leg_names[j], x=LEG_TEXT_X[j] / W, y=1 - LEG_Y / H,
                            xref="paper", yref="paper", xanchor="left", yanchor="middle",
                            showarrow=False, font=dict(family=FONT, size=11, color="black")))

fig.update_layout(width=W, height=H, autosize=False, margin=dict(l=0, r=0, t=0, b=0),
                  paper_bgcolor="white", plot_bgcolor="white", showlegend=False,
                  annotations=annotations, shapes=shapes, **layout)
fig.write_html("out.html")
